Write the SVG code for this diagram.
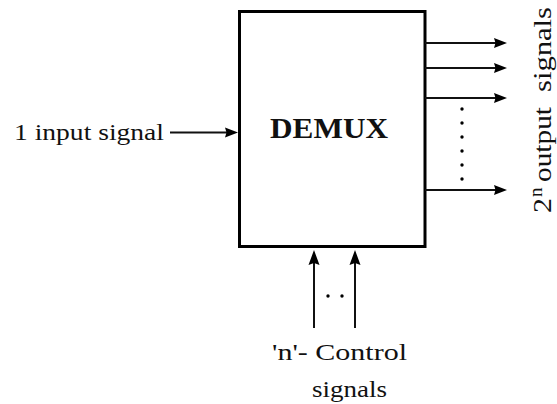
<svg xmlns="http://www.w3.org/2000/svg" width="557" height="404" viewBox="0 0 557 404">
  <style>
    .t { font-family: "Liberation Serif", "Times New Roman", serif; fill: #111; }
    .wire { stroke: #111; stroke-width: 2; fill: none; }
    .head { fill: #000; }
    .dot { fill: #000; }
  </style>
  <rect width="557" height="404" fill="#fff"/>
  <g id="demux">
    <rect x="239.5" y="11.5" width="185.5" height="235" fill="#fff" stroke="#000" stroke-width="3"/>
    <text class="t" x="270" y="138" font-size="29" font-weight="bold" textLength="118" lengthAdjust="spacingAndGlyphs">DEMUX</text>
  </g>
  <g id="input">
    <text class="t" x="14" y="140" font-size="24" textLength="150" lengthAdjust="spacingAndGlyphs">1 input signal</text>
  </g>
  <g id="outputs-label">
    <g transform="translate(551,213) rotate(-90)">
      <text class="t" x="0" y="0" font-size="25" textLength="15" lengthAdjust="spacingAndGlyphs">2</text>
      <text class="t" x="16" y="-9" font-size="19">n</text>
      <text class="t" x="31" y="0" font-size="25" textLength="75" lengthAdjust="spacingAndGlyphs">output</text>
      <text class="t" x="121" y="0" font-size="25" textLength="85" lengthAdjust="spacingAndGlyphs">signals</text>
    </g>
  </g>
  <g id="control-label">
    <text class="t" x="272" y="360" font-size="23" textLength="135" lengthAdjust="spacingAndGlyphs">'n'- Control</text>
    <text class="t" x="312" y="397" font-size="23" textLength="75" lengthAdjust="spacingAndGlyphs">signals</text>
  </g>
  <g id="connectors">
    <line class="wire" x1="170" y1="132.5" x2="228" y2="132.5"/>
    <polygon class="head" points="238,132.5 225,127.5 226.5,132.5 225,137.5"/>
    <line class="wire" x1="425" y1="43" x2="497" y2="43"/>
    <polygon class="head" points="507,43 494,38 495.5,43 494,48"/>
    <line class="wire" x1="425" y1="68" x2="497" y2="68"/>
    <polygon class="head" points="507,68 494,63 495.5,68 494,73"/>
    <line class="wire" x1="425" y1="98" x2="497" y2="98"/>
    <polygon class="head" points="507,98 494,93 495.5,98 494,103"/>
    <line class="wire" x1="425" y1="190" x2="497" y2="190"/>
    <polygon class="head" points="507,190 494,185 495.5,190 494,195"/>
    <line class="wire" x1="314" y1="328" x2="314" y2="262"/>
    <polygon class="head" points="314,250 308.5,265 314,263 319.5,265"/>
    <line class="wire" x1="355" y1="328" x2="355" y2="262"/>
    <polygon class="head" points="355,250 349.5,265 355,263 360.5,265"/>
    <circle class="dot" cx="462" cy="109" r="1.7"/>
    <circle class="dot" cx="462" cy="123" r="1.7"/>
    <circle class="dot" cx="462" cy="137" r="1.7"/>
    <circle class="dot" cx="462" cy="151" r="1.7"/>
    <circle class="dot" cx="462" cy="165" r="1.7"/>
    <circle class="dot" cx="462" cy="179" r="1.7"/>
    <circle class="dot" cx="328" cy="296" r="1.7"/>
    <circle class="dot" cx="342" cy="296" r="1.7"/>
  </g>
</svg>
